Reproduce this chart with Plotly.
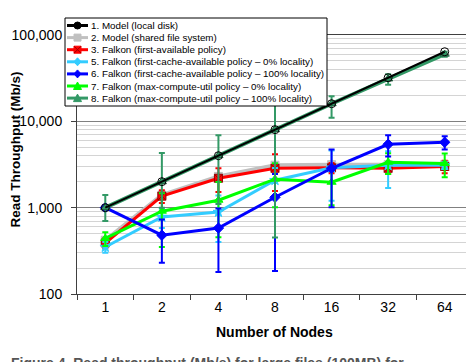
import plotly.graph_objects as go

# ---------------- data ----------------
nodes = ["1", "2", "4", "8", "16", "32", "64"]

model_local = [1000, 2000, 4000, 8000, 16000, 32000, 64000]
model_shared = [420, 1400, 2300, 3100, 3150, 3150, 3150]

first_avail = [390, 1360, 2190, 2860, 2900, 2860, 3000]
first_avail_err = [50, 230, 670, 1300, 400, 400, 500]

fca_0 = [350, 780, 890, 2080, 2900, 3090, 3100]
fca_0_err = [50, 200, 490, 800, 1700, 1400, 300]

fca_100 = [1000, 480, 580, 1320, 2860, 5420, 5720]
fca_100_err = [50, 250, 400, 1135, 1850, 1500, 1000]

mcu_0 = [440, 910, 1220, 2140, 1970, 3360, 3250]
mcu_0_err = [80, 560, 765, 1130, 900, 900, 1000]

mcu_100 = [1000, 2000, 4000, 8000, 16000, 31000, 60000]
mcu_100_err_plus = [400, 2300, 2900, 8000, 3500, 4000, 4000]
mcu_100_err_minus = [300, 1000, 2900, 7550, 5000, 4500, 4000]

labels = [
    "1. Model (local disk)",
    "2. Model (shared file system)",
    "3. Falkon (first-available policy)",
    "5. Falkon (first-cache-available policy \u2013 0% locality)",
    "6. Falkon (first-cache-available policy \u2013 100% locality)",
    "7. Falkon (max-compute-util policy \u2013 0% locality)",
    "8. Falkon (max-compute-util policy \u2013 100% locality)",
]
y_tickvals = [100, 1000, 10000, 100000]
y_ticktext = ["100", "1,000", "10,000", "100,000"]

C_BLACK = "#000000"
C_GRAY = "#c0c0c0"
C_RED = "#ff0000"
C_CYAN = "#33ccff"
C_BLUE = "#0000ff"
C_LIME = "#00ff00"
C_SEA = "#339966"

FONT = "Liberation Sans, Arial, sans-serif"

fig = go.Figure()


def err(arr, minus=None, color="#000"):
    d = dict(type="data", array=arr, color=color, thickness=2, width=3, visible=True)
    if minus is not None:
        d["arrayminus"] = minus
        d["symmetric"] = False
    return d


def add(y, color, symbol, name, e=None, msize=8, mline=None, width=3):
    fig.add_trace(go.Scatter(
        x=nodes, y=y, mode="lines+markers", name=name,
        line=dict(color=color, width=width),
        marker=dict(symbol=symbol, size=msize, color=color,
                    line=dict(color=mline or color, width=1)),
        error_y=e, showlegend=False,
    ))


add(model_shared, C_GRAY, "square", labels[1], width=4)
add(first_avail, C_RED, "square-x", labels[2], err(first_avail_err, color=C_RED), mline="#990000")
add(fca_0, C_CYAN, "star", labels[3], err(fca_0_err, color=C_CYAN))
add(mcu_0, C_LIME, "triangle-up", labels[5], err(mcu_0_err, color=C_LIME))
add(fca_100, C_BLUE, "diamond", labels[4], err(fca_100_err, color=C_BLUE))
add(mcu_100, C_SEA, "triangle-up", labels[6],
    err(mcu_100_err_plus, mcu_100_err_minus, color=C_SEA), mline="#1f5f3f", width=4)
add(model_local, C_BLACK, "circle-open", labels[0], msize=8, width=2)

# ---------------- layout geometry ----------------
# page body has an 8px default margin, so the figure is shifted by 8px
OFF = 8
W, H = 466, 354
L, R, T, B = 69, 1, 27, 68
PW, PH = W - L - R, H - T - B


def px(x):
    """window pixel x -> paper coordinate"""
    return (x - OFF - L) / PW


def py(y):
    """window pixel y -> paper coordinate"""
    return (H - B - (y - OFF)) / PH


shapes = []
annotations = []

# custom compact legend (Excel style)
shapes.append(dict(type="rect", xref="paper", yref="paper",
                   x0=px(65), x1=px(327), y0=py(106), y1=py(18),
                   fillcolor="white", line=dict(color="black", width=1), layer="above"))

leg_colors = [C_BLACK, C_GRAY, C_RED, C_CYAN, C_BLUE, C_LIME, C_SEA]
leg_syms = ["circle", "square", "squarex", "star", "diamond", "triangle", "triangle"]
for i, (lab, col, sym) in enumerate(zip(labels, leg_colors, leg_syms)):
    cy = 25.5 + 12.1 * i
    shapes.append(dict(type="line", xref="paper", yref="paper",
                       x0=px(67), x1=px(88), y0=py(cy), y1=py(cy),
                       line=dict(color=col, width=3), layer="above"))
    cx = 77.5
    s = 3.5
    if sym == "circle":
        shapes.append(dict(type="circle", xref="paper", yref="paper",
                           x0=px(cx - s), x1=px(cx + s), y0=py(cy + s), y1=py(cy - s),
                           fillcolor=col, line=dict(color=col, width=1), layer="above"))
    elif sym in ("square", "squarex"):
        shapes.append(dict(type="rect", xref="paper", yref="paper",
                           x0=px(cx - s), x1=px(cx + s), y0=py(cy + s), y1=py(cy - s),
                           fillcolor=col, line=dict(color=col, width=1), layer="above"))
        if sym == "squarex":
            for a, b in ((-1, 1), (1, -1)):
                shapes.append(dict(type="line", xref="paper", yref="paper",
                                   x0=px(cx - s), x1=px(cx + s),
                                   y0=py(cy + a * s), y1=py(cy + b * s),
                                   line=dict(color="#990000", width=1), layer="above"))
    elif sym == "diamond" or sym == "star":
        path = (f"M {px(cx)},{py(cy - s - 0.5)} L {px(cx + s)},{py(cy)} "
                f"L {px(cx)},{py(cy + s + 0.5)} L {px(cx - s)},{py(cy)} Z")
        shapes.append(dict(type="path", xref="paper", yref="paper", path=path,
                           fillcolor=col, line=dict(color=col, width=1), layer="above"))
    elif sym == "triangle":
        path = (f"M {px(cx)},{py(cy - s - 0.5)} L {px(cx + s + 0.5)},{py(cy + s)} "
                f"L {px(cx - s - 0.5)},{py(cy + s)} Z")
        shapes.append(dict(type="path", xref="paper", yref="paper", path=path,
                           fillcolor=col, line=dict(color=col, width=1), layer="above"))
    annotations.append(dict(xref="paper", yref="paper", x=px(88.5), y=py(cy),
                            xanchor="left", yanchor="middle", showarrow=False,
                            text=lab, font=dict(family=FONT, size=9.8, color="black")))

# y-axis title
annotations.append(dict(xref="paper", yref="paper", x=px(14.5), y=py(150),
                        xanchor="center", yanchor="middle", showarrow=False,
                        textangle=-90, text="<b>Read Throughput (Mb/s)</b>",
                        font=dict(family=FONT, size=13.5, color="black")))
# x-axis title
annotations.append(dict(xref="paper", yref="paper", x=px(274), y=py(332),
                        xanchor="center", yanchor="middle", showarrow=False,
                        text="<b>Number of Nodes</b>",
                        font=dict(family=FONT, size=14, color="black")))
# cropped caption at the very bottom (cut off by the window, as in the source)
annotations.append(dict(xref="paper", yref="paper", x=px(9), y=py(353),
                        xanchor="left", yanchor="top", showarrow=False,
                        text="<b>Figure 4. Read throughput (Mb/s) for large files (100MB) for</b>",
                        font=dict(family=FONT, size=14, color="#555555")))

fig.update_layout(
    width=W, height=H,
    margin=dict(l=L, r=R, t=T, b=B, pad=0),
    paper_bgcolor="white", plot_bgcolor="white",
    showlegend=False,
    font=dict(family=FONT, size=14, color="black"),
    shapes=shapes, annotations=annotations,
    xaxis=dict(
        type="category", categoryorder="array", categoryarray=nodes,
        range=[-0.5, 6.5], tickson="boundaries", ticks="outside", ticklen=5,
        tickcolor="#404040", showgrid=False, showline=True, linecolor="#404040",
        linewidth=1, mirror=True, zeroline=False,
        tickfont=dict(family=FONT, size=14, color="black"),
    ),
    yaxis=dict(
        type="log", range=[2, 5], tickvals=y_tickvals, ticktext=y_ticktext,
        ticks="outside", ticklen=5, tickcolor="#404040", ticklabelstandoff=6,
        showgrid=True, gridcolor="#808080", gridwidth=1,
        minor=dict(showgrid=True, gridcolor="#d4d4d4", gridwidth=1, dtick="D1", ticks=""),
        showline=True, linecolor="#404040", linewidth=1, mirror=True, zeroline=False,
        tickfont=dict(family=FONT, size=14, color="black"),
    ),
)

fig.write_html("out.html")
